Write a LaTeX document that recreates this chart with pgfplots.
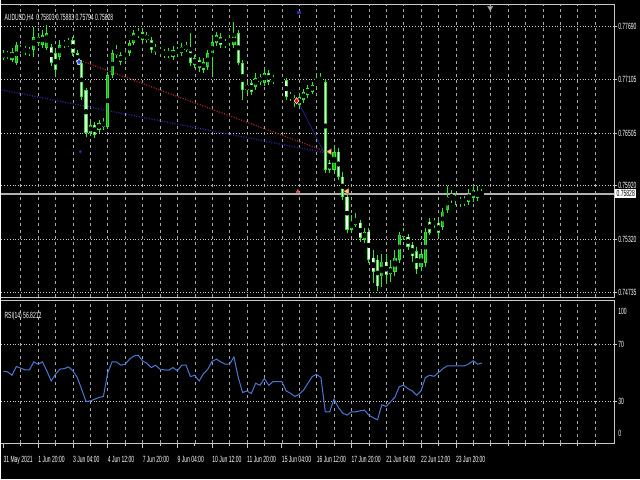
\documentclass[border=0pt]{standalone}
\usepackage{fontspec}
\usepackage{pgfplots}
\pgfplotsset{compat=1.18}
\usepackage{pgfplotstable}
\newfontfamily\mtfont[FakeStretch=0.56]{Liberation Sans}
\newcommand\mtf{\mtfont\fontsize{9}{10}\selectfont}
\definecolor{candle}{HTML}{32E632}
\definecolor{bullbody}{HTML}{22A822}
\definecolor{bearbody}{HTML}{F0FFF0}
\definecolor{gridc}{HTML}{C8C8C8}
\definecolor{vgridc}{HTML}{A8A8A8}
\definecolor{rsiblue}{HTML}{4A78D8}
\definecolor{dred}{HTML}{B02828}
\definecolor{dblue}{HTML}{2828B0}

\pgfplotstableread{
i o h l c
0 0.77343 0.77431 0.77320 0.77398
1 0.77398 0.77420 0.77332 0.77354
2 0.77320 0.77454 0.77298 0.77409
3 0.77287 0.77520 0.77265 0.77487
4 0.77454 0.77487 0.77398 0.77431
5 0.77454 0.77476 0.77376 0.77409
6 0.77431 0.77465 0.77365 0.77398
7 0.77431 0.77687 0.77354 0.77576
8 0.77576 0.77620 0.77476 0.77509
9 0.77487 0.77653 0.77454 0.77598
10 0.77454 0.77709 0.77431 0.77620
11 0.77465 0.77498 0.77254 0.77287
12 0.77398 0.77431 0.77154 0.77209
13 0.77354 0.77542 0.77320 0.77487
14 0.77487 0.77542 0.77454 0.77509
15 0.77487 0.77565 0.77465 0.77520
16 0.77542 0.77576 0.77365 0.77398
17 0.77398 0.77431 0.77265 0.77298
18 0.77287 0.77320 0.76876 0.76910
19 0.76987 0.77010 0.76466 0.76510
20 0.76510 0.76632 0.76477 0.76599
21 0.76599 0.76632 0.76455 0.76488
22 0.76543 0.76654 0.76510 0.76621
23 0.76577 0.76677 0.76543 0.76632
24 0.76577 0.77187 0.76554 0.77154
25 0.77154 0.77431 0.77121 0.77398
26 0.77376 0.77487 0.77343 0.77431
27 0.77376 0.77409 0.77265 0.77298
28 0.77354 0.77431 0.77320 0.77398
29 0.77398 0.77542 0.77365 0.77509
30 0.77509 0.77653 0.77487 0.77620
31 0.77598 0.77676 0.77565 0.77631
32 0.77631 0.77653 0.77509 0.77542
33 0.77542 0.77631 0.77509 0.77598
34 0.77542 0.77576 0.77398 0.77431
35 0.77465 0.77498 0.77376 0.77409
36 0.77431 0.77465 0.77365 0.77398
37 0.77409 0.77443 0.77343 0.77376
38 0.77376 0.77454 0.77343 0.77409
39 0.77354 0.77476 0.77320 0.77431
40 0.77398 0.77465 0.77365 0.77431
41 0.77398 0.77509 0.77365 0.77465
42 0.77431 0.77520 0.77409 0.77487
43 0.77454 0.77620 0.77254 0.77287
44 0.77343 0.77376 0.77232 0.77265
45 0.77320 0.77354 0.77187 0.77232
46 0.77298 0.77343 0.77176 0.77209
47 0.77243 0.77431 0.77209 0.77398
48 0.77376 0.77598 0.77154 0.77520
49 0.77509 0.77631 0.77476 0.77598
50 0.77576 0.77620 0.77454 0.77487
51 0.77520 0.77554 0.77454 0.77487
52 0.77509 0.77598 0.77476 0.77565
53 0.77487 0.77742 0.77454 0.77598
54 0.77620 0.77653 0.77265 0.77287
55 0.77287 0.77320 0.76876 0.76987
56 0.76987 0.77076 0.76954 0.77043
57 0.77065 0.77098 0.76932 0.76965
58 0.77021 0.77176 0.76987 0.77121
59 0.77076 0.77165 0.77043 0.77132
60 0.77065 0.77232 0.77032 0.77176
61 0.77176 0.77209 0.77043 0.77076
62 0.77076 0.77154 0.77054 0.77121
63 0.77098 0.77132 0.77076 0.77110
64 0.77110 0.77132 0.77076 0.77098
65 0.77098 0.77121 0.76876 0.76910
66 0.76932 0.76965 0.76865 0.76899
67 0.76899 0.76932 0.76799 0.76843
68 0.76821 0.76943 0.76788 0.76910
69 0.76876 0.76999 0.76843 0.76965
70 0.76932 0.77043 0.76899 0.77010
71 0.76965 0.77076 0.76943 0.77043
72 0.77043 0.77176 0.77010 0.77076
73 0.77065 0.77176 0.77043 0.77076
74 0.77076 0.77098 0.76066 0.76099
75 0.76177 0.76210 0.76066 0.76099
76 0.76099 0.76377 0.76066 0.76299
77 0.76299 0.76344 0.75988 0.76022
78 0.76022 0.76077 0.75766 0.75800
79 0.75800 0.75833 0.75400 0.75433
80 0.75433 0.75600 0.75400 0.75522
81 0.75544 0.75622 0.75456 0.75489
82 0.75511 0.75544 0.75300 0.75345
83 0.75322 0.75456 0.75289 0.75411
84 0.75411 0.75456 0.75067 0.75100
85 0.75123 0.75211 0.74845 0.74967
86 0.75100 0.75156 0.74745 0.74801
87 0.74912 0.75156 0.74790 0.75078
88 0.75078 0.75156 0.74823 0.74934
89 0.74934 0.75100 0.74856 0.75012
90 0.74967 0.75211 0.74923 0.75123
91 0.75100 0.75411 0.75067 0.75378
92 0.75356 0.75456 0.75322 0.75411
93 0.75356 0.75389 0.75211 0.75245
94 0.75267 0.75300 0.75078 0.75134
95 0.75189 0.75234 0.74934 0.74989
96 0.75012 0.75211 0.74967 0.75156
97 0.75067 0.75456 0.75023 0.75411
98 0.75522 0.75567 0.75367 0.75400
99 0.75489 0.75567 0.75456 0.75522
100 0.75511 0.75544 0.75345 0.75400
101 0.75467 0.75678 0.75433 0.75633
102 0.75655 0.75922 0.75622 0.75800
103 0.75766 0.75877 0.75733 0.75800
104 0.75800 0.75844 0.75711 0.75755
105 0.75766 0.75800 0.75689 0.75733
106 0.75733 0.75811 0.75700 0.75766
107 0.75744 0.75889 0.75711 0.75822
108 0.75789 0.75922 0.75744 0.75877
109 0.75855 0.75922 0.75755 0.75789
110 0.75803 0.75883 0.75794 0.75828
}\candles

\pgfplotstableread{
i r
0 51.1
1 50.6
2 48.2
3 54.4
4 53.2
5 52.0
6 52.0
7 57.6
8 56.0
9 57.6
10 51.3
11 44.2
12 48.9
13 52.5
14 52.9
15 54.1
16 51.3
17 46.6
18 38.4
19 29.8
20 30.2
21 31.4
22 32.6
23 33.3
24 50.1
25 57.6
26 57.6
27 55.3
28 56.0
29 59.5
30 61.8
31 62.3
32 58.3
33 56.7
34 53.6
35 55.3
36 52.5
37 52.0
38 51.8
39 53.6
40 51.3
41 55.3
42 55.3
43 47.3
44 48.2
45 44.2
46 49.3
47 52.5
48 58.1
49 59.5
50 57.6
51 56.0
52 56.0
53 61.1
54 46.6
55 36.1
56 37.2
57 35.4
58 42.6
59 41.2
60 45.9
61 41.2
62 43.8
63 43.8
64 43.8
65 37.2
66 35.6
67 33.3
68 34.9
69 37.7
70 42.6
71 47.3
72 48.9
73 46.6
74 22.5
75 22.5
76 31.4
77 25.6
78 21.6
79 20.2
80 22.5
81 22.5
82 23.2
83 23.7
84 20.2
85 18.4
86 16.9
87 27.5
88 26.3
89 29.6
90 32.8
91 40.2
92 41.2
93 38.8
94 37.2
95 34.2
96 37.2
97 46.6
98 48.2
99 47.5
100 50.0
101 52.8
102 54.8
103 54.8
104 54.8
105 54.8
106 54.8
107 56.3
108 58.4
109 56.0
110 56.8
}\rsidata

\pgfplotsset{mt/.style={
  scale only axis, width=614pt, xmin=-0.46, xmax=140.37,
  axis line style={draw=none}, clip=false,
  xtick={4,8,...,136}, xticklabels={},
  xmajorgrids, ymajorgrids,
  x grid style={vgridc, line width=0.5pt, dash pattern=on 3pt off 3.5pt},
  y grid style={gridc, line width=0.9pt, dash pattern=on 0.9pt off 1.9pt},
  tick style={draw=gridc, line width=0.6pt},
  major tick length=3pt, tick align=outside,
  xtick pos=bottom, ytick pos=right, yticklabel pos=right,
  yticklabel style={font=\mtf, text=white, anchor=west, inner sep=1pt},
  /pgf/number format/assume math mode=true}}

\begin{document}
\begin{tikzpicture}
\fill[black] (0pt,0pt) rectangle (640pt,480pt);

% ---------- price panel ----------
\begin{axis}[mt, at={(0pt,182pt)}, anchor=south west, height=293pt,
  ymin=0.746786, ymax=0.779309,
  ytick={0.74735,0.75320,0.75920,0.76505,0.77105,0.77690},
  yticklabels={0.74735,0.75320,0.75920,0.76505,0.77105,0.77690},
  xtick style={draw=none}]
% current price line
\addplot[color=white!70!black, line width=1.3pt] coordinates {(-0.46,0.75828) (140.37,0.75828)};
% trend lines
\addplot[dblue, line width=1.3pt, dash pattern=on 1pt off 1.6pt] coordinates {(-0.46,0.76987) (74.1,0.76285)};
\addplot[dred, line width=1.3pt, dash pattern=on 1pt off 1.6pt] coordinates {(18.3,0.77303) (74.1,0.76302)};
\addplot[dblue, line width=0.6pt] coordinates {(67.9,0.76843) (73.6,0.76299)};
% wicks
\addplot[only marks, mark=none, error bars/.cd, y dir=both, y explicit, error mark=none,
  error bar style={draw=candle, line width=0.9pt}]
  table[x=i, y expr={(\thisrow{h}+\thisrow{l})/2}, y error expr={(\thisrow{h}-\thisrow{l})/2}] {\candles};
% bodies
\addplot[only marks, mark=none, error bars/.cd, y dir=both, y explicit, error mark=none,
  error bar style={draw=candle, line width=3.2pt}]
  table[x=i, y expr={(\thisrow{o}+\thisrow{c})/2}, y error expr={max(abs(\thisrow{c}-\thisrow{o})/2,0.00005)}] {\candles};
\addplot[only marks, mark=none, restrict expr to domain={\thisrow{c}-\thisrow{o}}{0:1},
  error bars/.cd, y dir=both, y explicit, error mark=none,
  error bar style={draw=bullbody, line width=1.5pt}]
  table[x=i, y expr={(\thisrow{o}+\thisrow{c})/2}, y error expr={max(abs(\thisrow{c}-\thisrow{o})/2-0.00008,0)}] {\candles};
\addplot[only marks, mark=none, restrict expr to domain={\thisrow{c}-\thisrow{o}}{-1:-0.000001},
  error bars/.cd, y dir=both, y explicit, error mark=none,
  error bar style={draw=bearbody, line width=1.5pt}]
  table[x=i, y expr={(\thisrow{o}+\thisrow{c})/2}, y error expr={max(abs(\thisrow{c}-\thisrow{o})/2-0.00008,0)}] {\candles};
% signal markers
\addplot[only marks, mark=diamond*, mark size=3.2pt, mark options={fill=blue!80!white, draw=white, line width=0.5pt}] coordinates {(17.4,0.77298)};
\addplot[only marks, mark=diamond*, mark size=3.2pt, mark options={fill=red, draw=white, line width=0.5pt}] coordinates {(67.4,0.76865)};
\addplot[only marks, mark=triangle*, mark size=3.5pt, mark options={rotate=90, fill=orange!45!white, draw=orange!60!black, line width=0.4pt}] coordinates {(75,0.76299) (79,0.75858)};
\addplot[only marks, mark=*, mark size=1.3pt, color=dblue] coordinates {(17.7,0.76299)};
\addplot[only marks, mark=triangle*, mark size=2pt, color=red!70!white] coordinates {(67.7,0.75857)};
\addplot[only marks, mark=square*, mark size=1.2pt, color=dblue] coordinates {(67.9,0.77853)};
\addplot[only marks, mark=triangle*, mark size=3pt, mark options={rotate=180}, color=white!65!black] coordinates {(111.9,0.77900)};
\draw[gridc, line width=1pt] (rel axis cs:0,1) -- (rel axis cs:1,1) -- (rel axis cs:1,0) -- (rel axis cs:0,0);
\end{axis}

% ---------- RSI panel ----------
\begin{axis}[mt, at={(0pt,36pt)}, anchor=south west, height=143pt,
  ymin=0.53, ymax=100.88,
  ytick={30,70}, yticklabels={30,70},
  extra x ticks={0,8,...,104},
  extra x tick labels={31 May 2021,1 Jun 20:00,3 Jun 04:00,4 Jun 12:00,7 Jun 20:00,9 Jun 04:00,10 Jun 12:00,11 Jun 20:00,15 Jun 04:00,16 Jun 12:00,17 Jun 20:00,21 Jun 04:00,22 Jun 12:00,23 Jun 20:00},
  extra x tick style={grid=none, major tick length=5pt,
    xticklabel style={font=\mtf, text=white, anchor=north west, inner sep=0pt, yshift=-8pt}}]
\addplot[rsiblue, line width=1pt] table[x=i, y=r] {\rsidata};
\draw[gridc, line width=1pt] (rel axis cs:0,1) -- (rel axis cs:1,1) -- (rel axis cs:1,0) -- (rel axis cs:0,0);
\end{axis}

% ---------- texts ----------
\node[anchor=west, text=white, font=\mtf, inner sep=0pt] at (3pt,462pt) {AUDUSD,H4\ \ 0.75803 0.75883 0.75794 0.75828};
\node[anchor=west, text=white, font=\mtf, inner sep=0pt] at (3pt,163pt) {RSI(14) 56.8212};
\node[anchor=west, fill=white, text=black, font=\mtf, inner sep=1.4pt] at (615pt,286pt) {0.75828};
\node[anchor=west, text=white, font=\mtf, inner sep=1pt] at (617pt,168pt) {100};
\node[anchor=west, text=white, font=\mtf, inner sep=1pt] at (617pt,46pt) {0};
\end{tikzpicture}
\end{document}
